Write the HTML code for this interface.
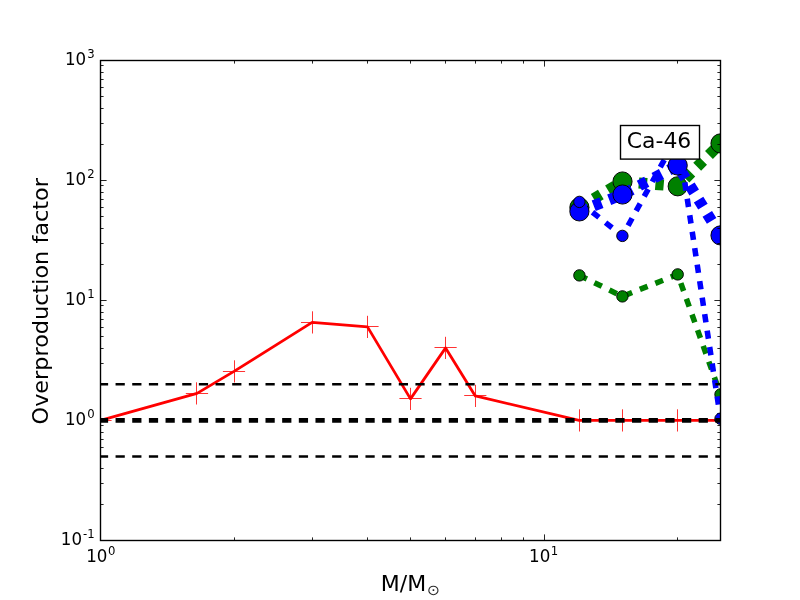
<!DOCTYPE html>
<html lang="en"><head><meta charset="utf-8"><title>Ca-46 overproduction factor</title>
<style>html,body{margin:0;padding:0;background:#fff;}body{width:800px;height:600px;overflow:hidden;}svg{display:block;}text{font-family:"DejaVu Sans","Liberation Sans",sans-serif;fill:#000;}</style></head><body>
<svg width="800" height="600" viewBox="0 0 800 600">
<rect x="0" y="0" width="800" height="600" fill="#ffffff"/>
<defs><clipPath id="ax"><rect x="100" y="60" width="620" height="480"/></clipPath></defs>
<g transform="translate(0.5,0.5)">
<g clip-path="url(#ax)">
<polyline fill="none" stroke="#ff0000" stroke-width="2.78" stroke-linejoin="round" points="100.0,419.9 196.5,392.9 233.5,370.9 311.6,321.9 367.0,326.4 410.0,398.4 445.1,347.4 474.8,395.4 578.6,419.9 621.6,419.9 677.0,419.9 720.0,419.9"/>
<path d="M88.9 420H111.1M100 408.8V431.0M185.3 393H207.6M196 381.8V404.0M222.4 371H244.6M234 359.8V382.0M300.5 322H322.7M312 310.8V333.0M355.9 326H378.1M367 315.3V337.5M398.9 398H421.1M410 387.3V409.5M434.0 347H456.2M445 336.3V358.5M463.7 395H485.9M475 384.3V406.5M567.5 420H589.7M579 408.8V431.0M610.5 420H632.7M622 408.8V431.0M665.9 420H688.1M677 408.8V431.0M708.9 420H731.1M720 408.8V431.0" stroke="#ff0000" stroke-width="1" stroke-opacity="0.8" fill="none"/>
<polyline fill="none" stroke="#008000" stroke-width="5.56" stroke-dasharray="8.33 8.33" stroke-dashoffset="0.00" stroke-linejoin="miter" points="578.9,274.9 621.9,295.9 677.2,273.9 720.0,393.9"/>
<circle cx="578.9" cy="274.9" r="5.70" fill="#008000" stroke="#000" stroke-width="0.95"/>
<circle cx="621.9" cy="295.9" r="5.70" fill="#008000" stroke="#000" stroke-width="0.95"/>
<circle cx="677.2" cy="273.9" r="5.70" fill="#008000" stroke="#000" stroke-width="0.95"/>
<circle cx="720.0" cy="393.9" r="5.70" fill="#008000" stroke="#000" stroke-width="0.95"/>
<polyline fill="none" stroke="#008000" stroke-width="11.11" stroke-dasharray="8.33 8.33" stroke-dashoffset="0.00" stroke-linejoin="miter" points="578.9,206.9 622.0,181.0 677.2,185.8 720.0,142.9"/>
<circle cx="578.9" cy="206.9" r="9.60" fill="#008000" stroke="#000" stroke-width="0.95"/>
<circle cx="622.0" cy="181.0" r="9.60" fill="#008000" stroke="#000" stroke-width="0.95"/>
<circle cx="677.2" cy="185.8" r="9.60" fill="#008000" stroke="#000" stroke-width="0.95"/>
<circle cx="720.0" cy="142.9" r="9.60" fill="#008000" stroke="#000" stroke-width="0.95"/>
<polyline fill="none" stroke="#0000ff" stroke-width="11.11" stroke-dasharray="8.33 8.33" stroke-dashoffset="1.30" stroke-linejoin="miter" points="578.9,210.9 622.0,194.0 677.2,165.0 720.0,234.9"/>
<circle cx="578.9" cy="210.9" r="9.60" fill="#0000ff" stroke="#000" stroke-width="0.95"/>
<circle cx="622.0" cy="194.0" r="9.60" fill="#0000ff" stroke="#000" stroke-width="0.95"/>
<circle cx="677.2" cy="165.0" r="9.60" fill="#0000ff" stroke="#000" stroke-width="0.95"/>
<circle cx="720.0" cy="234.9" r="9.60" fill="#0000ff" stroke="#000" stroke-width="0.95"/>
<polyline fill="none" stroke="#0000ff" stroke-width="5.56" stroke-dasharray="8.33 8.33" stroke-dashoffset="0.00" stroke-linejoin="miter" points="578.9,201.4 621.9,235.4 677.2,135.1 720.0,418.2"/>
<circle cx="578.9" cy="201.4" r="5.70" fill="#0000ff" stroke="#000" stroke-width="0.95"/>
<circle cx="621.9" cy="235.4" r="5.70" fill="#0000ff" stroke="#000" stroke-width="0.95"/>
<circle cx="677.2" cy="135.1" r="5.70" fill="#0000ff" stroke="#000" stroke-width="0.95"/>
<circle cx="720.0" cy="418.2" r="5.70" fill="#0000ff" stroke="#000" stroke-width="0.95"/>
<line x1="100" y1="383.8" x2="720" y2="383.8" stroke="#000" stroke-width="2.50" stroke-dasharray="9.23 7.43" stroke-dashoffset="1.6"/>
<line x1="100" y1="456.0" x2="720" y2="456.0" stroke="#000" stroke-width="2.50" stroke-dasharray="9.23 7.43" stroke-dashoffset="1.6"/>
<line x1="100" y1="419.9" x2="720" y2="419.9" stroke="#000" stroke-width="4.86" stroke-dasharray="9.23 7.43" stroke-dashoffset="1.6"/>
</g>
<path d="M100 540.00h6.10M720 540.00h-6.10M100 504.00h3.10M720 504.00h-3.10M100 483.00h3.10M720 483.00h-3.10M100 468.00h3.10M720 468.00h-3.10M100 456.00h3.10M720 456.00h-3.10M100 447.00h3.10M720 447.00h-3.10M100 439.00h3.10M720 439.00h-3.10M100 432.00h3.10M720 432.00h-3.10M100 425.00h3.10M720 425.00h-3.10M100 420.00h6.10M720 420.00h-6.10M100 384.00h3.10M720 384.00h-3.10M100 363.00h3.10M720 363.00h-3.10M100 348.00h3.10M720 348.00h-3.10M100 336.00h3.10M720 336.00h-3.10M100 327.00h3.10M720 327.00h-3.10M100 319.00h3.10M720 319.00h-3.10M100 312.00h3.10M720 312.00h-3.10M100 305.00h3.10M720 305.00h-3.10M100 300.00h6.10M720 300.00h-6.10M100 264.00h3.10M720 264.00h-3.10M100 243.00h3.10M720 243.00h-3.10M100 228.00h3.10M720 228.00h-3.10M100 216.00h3.10M720 216.00h-3.10M100 207.00h3.10M720 207.00h-3.10M100 199.00h3.10M720 199.00h-3.10M100 192.00h3.10M720 192.00h-3.10M100 185.00h3.10M720 185.00h-3.10M100 180.00h6.10M720 180.00h-6.10M100 144.00h3.10M720 144.00h-3.10M100 123.00h3.10M720 123.00h-3.10M100 108.00h3.10M720 108.00h-3.10M100 96.00h3.10M720 96.00h-3.10M100 87.00h3.10M720 87.00h-3.10M100 79.00h3.10M720 79.00h-3.10M100 72.00h3.10M720 72.00h-3.10M100 65.00h3.10M720 65.00h-3.10M100 60.00h6.10M720 60.00h-6.10M100.00 540v-6.10M100.00 60v6.10M234.00 540v-3.10M234.00 60v3.10M312.00 540v-3.10M312.00 60v3.10M367.00 540v-3.10M367.00 60v3.10M410.00 540v-3.10M410.00 60v3.10M445.00 540v-3.10M445.00 60v3.10M475.00 540v-3.10M475.00 60v3.10M501.00 540v-3.10M501.00 60v3.10M523.00 540v-3.10M523.00 60v3.10M544.00 540v-6.10M544.00 60v6.10M677.00 540v-3.10M677.00 60v3.10" stroke="#000" stroke-width="1" stroke-opacity="0.85" fill="none"/>
<rect x="100" y="60" width="620" height="480" fill="none" stroke="#000" stroke-width="1.39"/>
</g>
<text transform="translate(94.6,545.4) scale(1,1.06)" font-size="16.67" text-anchor="end">10<tspan font-size="11.67" dx="1.0" dy="-7.0">-1</tspan></text>
<text transform="translate(94.6,425.4) scale(1,1.06)" font-size="16.67" text-anchor="end">10<tspan font-size="11.67" dx="1.0" dy="-7.0">0</tspan></text>
<text transform="translate(94.6,305.4) scale(1,1.06)" font-size="16.67" text-anchor="end">10<tspan font-size="11.67" dx="1.0" dy="-7.0">1</tspan></text>
<text transform="translate(94.6,185.4) scale(1,1.06)" font-size="16.67" text-anchor="end">10<tspan font-size="11.67" dx="1.0" dy="-7.0">2</tspan></text>
<text transform="translate(94.6,65.4) scale(1,1.06)" font-size="16.67" text-anchor="end">10<tspan font-size="11.67" dx="1.0" dy="-7.0">3</tspan></text>
<text transform="translate(100.8,561.7) scale(1,1.06)" font-size="16.67" text-anchor="middle">10<tspan font-size="11.67" dx="0.5" dy="-6.3">0</tspan></text>
<text transform="translate(543.6,561.7) scale(1,1.06)" font-size="16.67" text-anchor="middle">10<tspan font-size="11.67" dx="0.5" dy="-6.3">1</tspan></text>
<text transform="translate(410.4,591.0) scale(1,0.955)" font-size="22.00" text-anchor="middle">M/M<tspan font-size="15.56" dx="0.8" dy="4.6" fill-opacity="0.85">⊙</tspan></text>
<text transform="translate(48.4,301.3) rotate(-90) scale(1,0.93)" font-size="22.36" text-anchor="middle">Overproduction factor</text>
<rect x="620.5" y="125.5" width="79" height="33.6" fill="#fff" stroke="#000" stroke-width="1.39"/>
<text transform="translate(659,147.8) scale(1,0.955)" font-size="21.96" text-anchor="middle">Ca-46</text>
</svg></body></html>
